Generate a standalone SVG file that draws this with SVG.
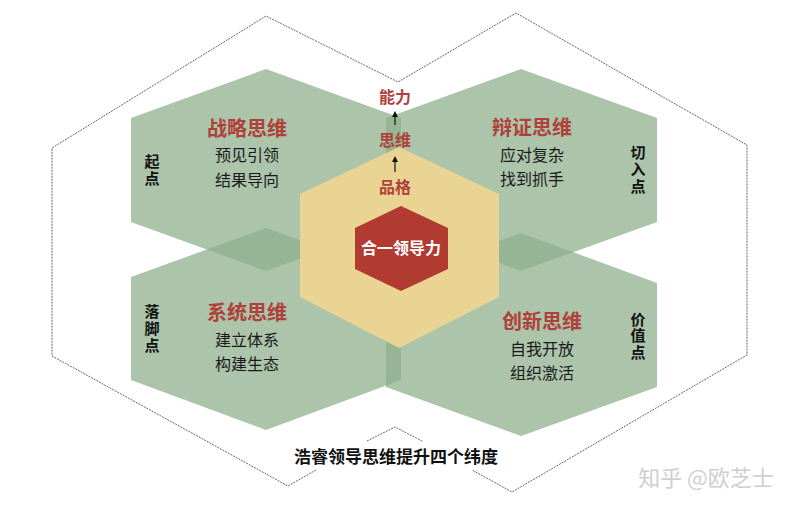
<svg xmlns="http://www.w3.org/2000/svg" width="800" height="509" viewBox="0 0 800 509">
<defs>
<style>
.g{fill:#8eaf8c;fill-opacity:0.74}
.t{font-family:"Liberation Serif","Noto Sans CJK SC",serif;font-weight:bold;fill:#b0403a;text-anchor:middle}
.s{font-family:"Liberation Serif","Noto Sans CJK SC",serif;fill:#1a1a1a;font-size:16px;text-anchor:middle}
.v{font-family:"Liberation Serif","Noto Sans CJK SC",serif;font-weight:bold;fill:#111;font-size:15px;text-anchor:middle}
.o{fill:none;stroke:#555;stroke-width:0.9;stroke-dasharray:2,1}
</style>
<marker id="ah" viewBox="0 0 10 10" refX="5" refY="5" markerWidth="5" markerHeight="5" orient="auto">
<path d="M0,0 L10,5 L0,10 z" fill="#111"/>
</marker>
</defs>
<rect width="800" height="509" fill="#fff"/>
<g id="outline">
<path class="o" d="M316,470 L288,486 L52,356 L52,148 L266,16 L398,82 L516,13 L747,145 L747,355 L512,492 L472,470"/>
<path class="o" d="M367,441 L395,427 L422,441"/>
</g>
<g id="hex-strategy">
<polygon class="g" points="266,69 401,118 401,222 266,271 131,222 131,118"/>
</g>
<g id="hex-dialectic">
<polygon class="g" points="521,69 657,118 657,222 521,271 386,222 386,118"/>
</g>
<g id="hex-system">
<polygon class="g" points="266,228 401,277 401,380 266,430 131,380 131,277"/>
</g>
<g id="hex-innovation">
<polygon class="g" points="521,233 657,283 657,387 521,436 386,387 386,283"/>
</g>
<g id="hex-character">
<polygon points="399,147 499,194 499,297 399,348 300,297 300,194" fill="#e9d494"/>
</g>
<g id="hex-core">
<polygon points="401,206 448,228 448,269 401,291 355,269 355,228" fill="#b13b31"/>
<text x="401" y="254" font-family="Liberation Serif,'Noto Sans CJK SC',serif" font-weight="bold" font-size="16" fill="#fff" text-anchor="middle">合一领导力</text>
</g>
<g id="connectors">
<line x1="395" y1="125" x2="395" y2="114" stroke="#111" stroke-width="1.2" marker-end="url(#ah)"/>
<line x1="395" y1="172" x2="395" y2="159" stroke="#111" stroke-width="1.2" marker-end="url(#ah)"/>
</g>
<g id="ladder">
<text class="t" x="395" y="103" font-size="16">能力</text>
<text class="t" x="395" y="146" font-size="16">思维</text>
<text class="t" x="395" y="193" font-size="16">品格</text>
</g>
<g id="label-strategy">
<text class="t" x="247" y="136" font-size="20">战略思维</text>
<text class="s" x="247" y="161">预见引领</text>
<text class="s" x="247" y="186">结果导向</text>
<text class="v" x="152"><tspan x="152" y="167">起</tspan><tspan x="152" y="184">点</tspan></text>
</g>
<g id="label-dialectic">
<text class="t" x="532" y="135" font-size="20">辩证思维</text>
<text class="s" x="532" y="161">应对复杂</text>
<text class="s" x="532" y="185">找到抓手</text>
<text class="v" x="638"><tspan x="638" y="158">切</tspan><tspan x="638" y="175">入</tspan><tspan x="638" y="192">点</tspan></text>
</g>
<g id="label-system">
<text class="t" x="247" y="320" font-size="20">系统思维</text>
<text class="s" x="247" y="346">建立体系</text>
<text class="s" x="247" y="370">构建生态</text>
<text class="v" x="152"><tspan x="152" y="317">落</tspan><tspan x="152" y="334">脚</tspan><tspan x="152" y="351">点</tspan></text>
</g>
<g id="label-innovation">
<text class="t" x="542" y="329" font-size="20">创新思维</text>
<text class="s" x="542" y="355">自我开放</text>
<text class="s" x="542" y="379">组织激活</text>
<text class="v" x="638"><tspan x="638" y="325">价</tspan><tspan x="638" y="341">值</tspan><tspan x="638" y="358">点</tspan></text>
</g>
<g id="caption">
<text x="396" y="463" font-family="Liberation Serif,'Noto Sans CJK SC',serif" font-weight="bold" font-size="17" fill="#111" text-anchor="middle">浩睿领导思维提升四个纬度</text>
</g>
<g id="watermark">
<text x="706" y="486" font-family="'Noto Sans CJK SC',sans-serif" font-size="22" fill="#cfcfcf" text-anchor="middle">知乎 @欧芝士</text>
</g>
</svg>
